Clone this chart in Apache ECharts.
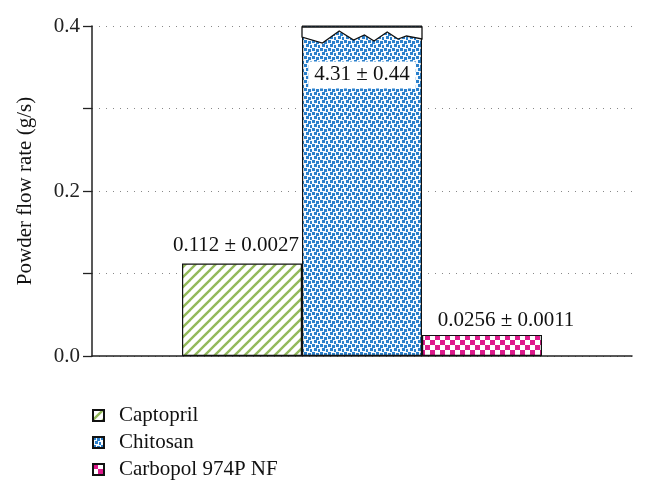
<!DOCTYPE html>
<html>
<head>
<meta charset="utf-8">
<script src="https://cdn.jsdelivr.net/npm/echarts@6/dist/echarts.min.js"></script>
<style>
html,body{margin:0;padding:0;background:#fff;}
#chart{width:646px;height:495px;}
</style>
</head>
<body>
<div id="chart"></div>
<script>
// ---- data ----
const categories = ['Captopril', 'Chitosan', 'Carbopol 974P NF'];
const values = [0.112, 4.31, 0.0256];
const errors = [0.0027, 0.44, 0.0011];
const yTicks = [0, 0.1, 0.2, 0.3, 0.4];
const yLabelTicks = ['0.0', '0.2', '0.4'];
const axisName = 'Powder flow rate (g/s)';

// ---- patterns ----
function makeCanvas(w, h) { const c = document.createElement('canvas'); c.width = w; c.height = h; return c; }
function stripePattern() {
  const c = makeCanvas(10, 10), g = c.getContext('2d');
  g.fillStyle = '#fff'; g.fillRect(0, 0, 10, 10);
  g.strokeStyle = '#93b95b'; g.lineWidth = 2.4;
  [[-5, 5, 5, -5], [0, 10, 10, 0], [5, 15, 15, 5]].forEach(l => { g.beginPath(); g.moveTo(l[0], l[1]); g.lineTo(l[2], l[3]); g.stroke(); });
  return c;
}
function dotPattern() {
  const c = makeCanvas(8, 8), g = c.getContext('2d');
  g.fillStyle = '#f6fafe'; g.fillRect(0, 0, 8, 8);
  g.fillStyle = '#2a80cc';
  [[0, 0], [4, 1], [2, 4], [6, 5]].forEach(p => g.fillRect(p[0], p[1], 3, 3));
  return c;
}
function checkPattern() {
  const c = makeCanvas(10, 10), g = c.getContext('2d');
  g.fillStyle = '#fff'; g.fillRect(0, 0, 10, 10);
  g.fillStyle = '#dd1a8c';
  g.fillRect(0, 0, 5, 5); g.fillRect(5, 5, 5, 5);
  return c;
}
const patterns = [stripePattern(), dotPattern(), checkPattern()];

const FONT = "'Liberation Serif', 'DejaVu Serif', serif";
const FS = 21;
const BAR_W = 120;
const YMAX = yTicks[yTicks.length - 1];
const labelOpts = [
  { position: 'top', distance: 8, offset: [-6, 0] },
  { position: 'insideTop', offset: [0, 31], backgroundColor: '#fff', padding: [3, 6] },
  { position: 'top', distance: 4, offset: [24, 0] }
];
// zigzag break profile: [fraction of bar width, px below top]
const zig = [[0, 10], [0.17, 16], [0.31, 4], [0.43, 13], [0.52, 8], [0.6, 14], [0.71, 5], [0.8, 12], [0.87, 9], [1, 12]];

const series = categories.map((name, i) => ({
  name: name,
  type: 'bar',
  barWidth: BAR_W,
  barGap: '0%',
  data: [values[i]],
  itemStyle: { color: { image: patterns[i], repeat: 'repeat' }, borderColor: '#111', borderWidth: 1.2 },
  label: Object.assign({
    show: true,
    formatter: () => values[i] + ' \u00b1 ' + errors[i],
    fontFamily: FONT, fontSize: FS, color: '#111'
  }, labelOpts[i])
}));

series.push({
  type: 'custom',
  name: 'break',
  z: 5,
  data: [[0, YMAX]],
  renderItem: function (params, api) {
    const p = api.coord([api.value(0), api.value(1)]);
    const x0 = p[0] - BAR_W / 2, top = p[1] + 1;
    const pts = [[x0, top], [x0 + BAR_W, top]];
    for (let k = zig.length - 1; k >= 0; k--) pts.push([x0 + zig[k][0] * BAR_W, top + zig[k][1]]);
    return { type: 'polygon', shape: { points: pts }, style: { fill: '#fff', stroke: '#111', lineWidth: 1.3 } };
  },
  silent: true
});

const chart = echarts.init(document.getElementById('chart'));
chart.setOption({
  animation: false,
  backgroundColor: '#fff',
  grid: { left: 92, right: 14, top: 26, bottom: 139, containLabel: false },
  legend: {
    data: categories,
    orient: 'vertical',
    left: 92, top: 405, padding: 0,
    itemWidth: 11, itemHeight: 11, itemGap: 6,
    icon: 'rect',
    textStyle: { fontFamily: FONT, fontSize: FS, color: '#111', padding: [0, 0, 0, 10] }
  },
  xAxis: {
    type: 'category',
    data: [''],
    axisLine: { lineStyle: { color: '#222', width: 1.5 } },
    axisTick: { show: false },
    axisLabel: { show: false }
  },
  yAxis: {
    type: 'value',
    min: yTicks[0], max: YMAX, interval: 0.1,
    name: axisName,
    nameLocation: 'middle', nameRotate: 90, nameGap: 56,
    nameTextStyle: { fontFamily: FONT, fontSize: FS, color: '#111' },
    axisLine: { show: true, lineStyle: { color: '#222', width: 1.5 } },
    axisTick: { show: true, inside: false, length: 9, lineStyle: { color: '#222', width: 1.3 } },
    axisLabel: {
      margin: 12, fontFamily: FONT, fontSize: FS, color: '#222',
      formatter: v => { const s = v.toFixed(1); return yLabelTicks.indexOf(s) >= 0 ? s : ''; }
    },
    splitLine: { show: true, lineStyle: { color: '#888', type: [1, 6], width: 1 } }
  },
  series: series
});
</script>
</body>
</html>
